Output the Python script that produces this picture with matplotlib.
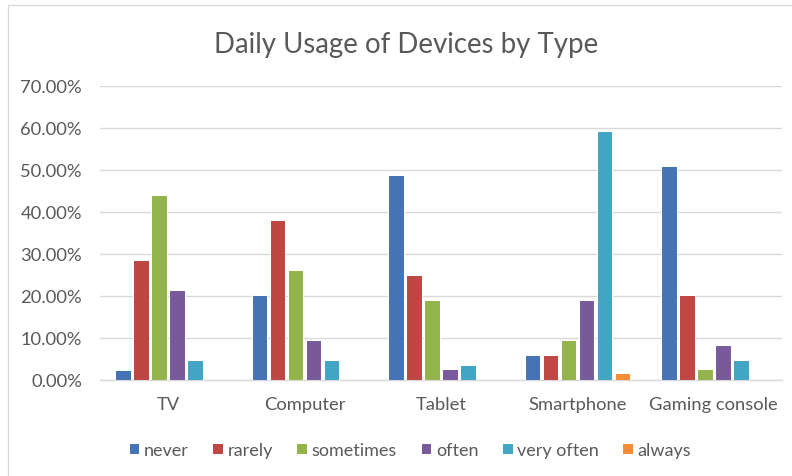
import matplotlib
matplotlib.use("Agg")
import matplotlib.pyplot as plt
import numpy as np
from matplotlib.patches import Rectangle
from matplotlib.ticker import FuncFormatter

categories = ["TV", "Computer", "Tablet", "Smartphone", "Gaming console"]
series_names = ["never", "rarely", "sometimes", "often", "very often", "always"]
never = [2.4, 20.2, 48.7, 6.0, 51.0]
rarely = [28.5, 38.0, 24.9, 6.0, 20.2]
sometimes = [44.0, 26.1, 19.0, 9.5, 2.5]
often = [21.4, 9.5, 2.5, 19.0, 8.3]
very_often = [4.7, 4.7, 3.6, 59.3, 4.7]
always = [0.0, 0.0, 0.0, 1.5, 0.0]
yticks = [0, 10, 20, 30, 40, 50, 60, 70]

series = [never, rarely, sometimes, often, very_often, always]
colors = ["#4573B6", "#BE4643", "#93B44B", "#785A9B", "#41A5C3", "#F68C35"]

plt.rcParams['font.family'] = ['Lato', 'DejaVu Sans']
text_color = "#595959"

fig = plt.figure(figsize=(7.92, 4.77), dpi=100)
W, H = 792, 477
ax = fig.add_axes([100 / W, 1 - 380.7 / H, 682 / W, 294 / H])

# chart border (left and top visible)
fig.patches.append(Rectangle((8 / W, -0.1), 1.2, 1 - 6 / H + 0.1, transform=fig.transFigure,
                             fill=False, edgecolor="#d9d9d9", linewidth=1.0))

x = np.arange(len(categories))
pitch = 0.132
width = 0.115
for j, (name, vals, c) in enumerate(zip(series_names, series, colors)):
    ax.bar(x + (j - 2.5) * pitch, vals, width=width, color=c, edgecolor="white",
           linewidth=0.75, label=name, zorder=3)

ax.set_xlim(-0.5, len(categories) - 0.5)
ax.set_ylim(0, 70)
ax.set_yticks(yticks)
ax.yaxis.set_major_formatter(FuncFormatter(lambda v, p: f"{v:.2f}%"))
ax.set_xticks(x)
ax.set_xticklabels(categories)
ax.grid(axis="y", color="#d9d9d9", linewidth=1.0, zorder=0)
for s in ["left", "right", "top"]:
    ax.spines[s].set_visible(False)
ax.spines["bottom"].set_color("#d9d9d9")
ax.spines["bottom"].set_linewidth(1.0)
ax.tick_params(axis="both", length=0, colors=text_color, labelsize=13.2)
ax.tick_params(axis="y", pad=13)
ax.tick_params(axis="x", pad=11.5)

fig.text(406 / W, 1 - 45 / H, "Daily Usage of Devices by Type", ha="center", va="center",
         fontsize=19.9, color=text_color)

leg = fig.legend(loc="center", bbox_to_anchor=(410 / W, 1 - 451 / H), ncol=6, frameon=False,
                 handlelength=0.6, handleheight=0.6, handletextpad=0.25, columnspacing=1.3,
                 fontsize=13)
for t in leg.get_texts():
    t.set_color(text_color)

fig.savefig("out.png", dpi=100)
